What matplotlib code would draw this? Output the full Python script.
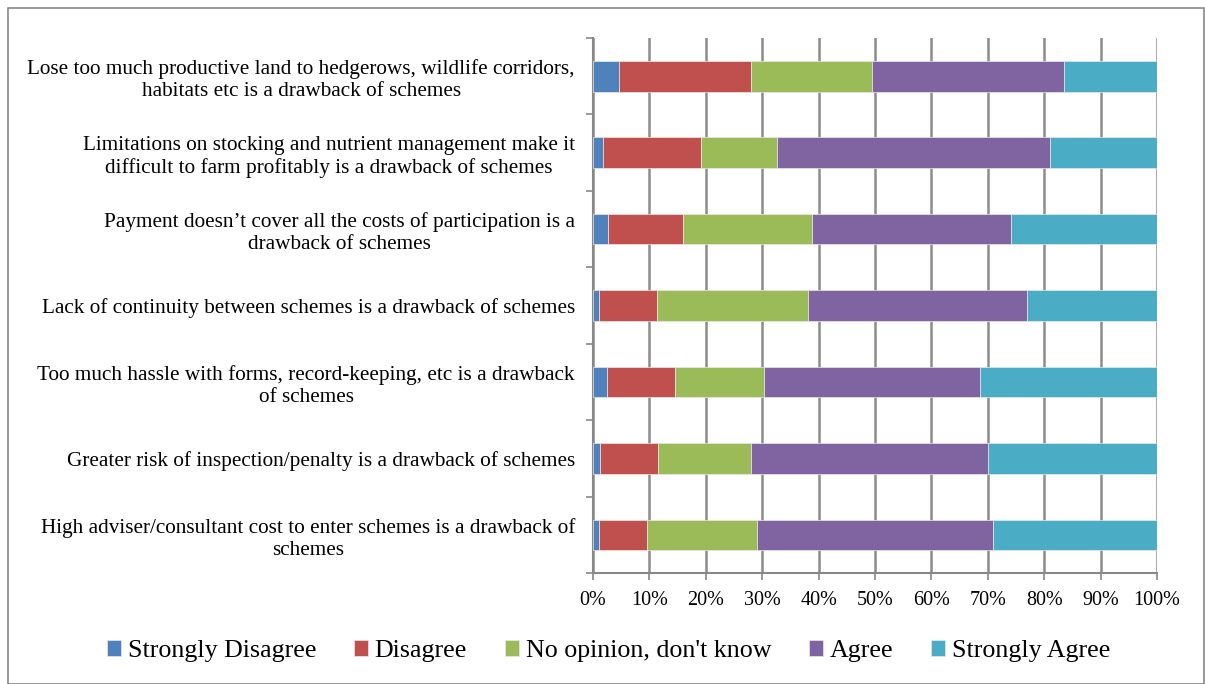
import matplotlib
matplotlib.use("Agg")
import matplotlib.pyplot as plt
import numpy as np
from matplotlib.patches import Rectangle

categories = [
    "Lose too much productive land to hedgerows, wildlife corridors,\nhabitats etc is a drawback of schemes",
    "Limitations on stocking and nutrient management make it\ndifficult to farm profitably is a drawback of schemes",
    "Payment doesn\u2019t cover all the costs of participation is a\ndrawback of schemes",
    "Lack of continuity between schemes is a drawback of schemes",
    "Too much hassle with forms, record-keeping, etc is a drawback\nof schemes",
    "Greater risk of inspection/penalty is a drawback of schemes",
    "High adviser/consultant cost to enter schemes is a drawback of\nschemes",
]
series_names = ["Strongly Disagree", "Disagree", "No opinion, don't know", "Agree", "Strongly Agree"]
strongly_disagree = [4.6, 1.7, 2.6, 1.1, 2.5, 1.2, 1.1]
disagree = [23.5, 17.4, 13.3, 10.2, 12.0, 10.4, 8.4]
no_opinion = [21.4, 13.5, 23.0, 26.9, 15.9, 16.4, 19.5]
agree = [34.0, 48.5, 35.3, 38.7, 38.2, 42.0, 42.0]
strongly_agree = [16.5, 18.9, 25.8, 23.1, 31.4, 30.0, 29.0]
x_ticks = [0, 10, 20, 30, 40, 50, 60, 70, 80, 90, 100]
x_tick_labels = [f"{t}%" for t in x_ticks]
colors = ["#4F81BD", "#C0504D", "#9BBB59", "#8064A2", "#4BACC6"]

plt.rcParams['font.family'] = ['Liberation Serif', 'DejaVu Serif']

W, H = 1205, 684
fig = plt.figure(figsize=(W / 100, H / 100), dpi=100)
ax = fig.add_axes([593 / W, 1 - 573 / H, (1157 - 593) / W, (573 - 38) / H])

data = [strongly_disagree, disagree, no_opinion, agree, strongly_agree]
y = np.arange(len(categories))
left = np.zeros(len(categories))
for name, vals, c in zip(series_names, data, colors):
    vals = np.array(vals, dtype=float)
    ax.barh(y, vals, left=left, height=0.4, color=c, label=name,
            edgecolor="#e8e8e8", linewidth=0.5, zorder=3)
    left += vals

ax.set_xlim(0, 100)
ax.set_ylim(len(categories) - 0.5, -0.5)
ax.set_xticks(x_ticks)
ax.set_xticklabels(x_tick_labels, fontsize=14.5)
ax.tick_params(axis='x', length=5, width=1.2, color="#888888", pad=8)
ax.grid(axis='x', color="#8c8c8c", linewidth=1.8, zorder=0)

ax.set_yticks(y)
ax.set_yticklabels(categories, fontsize=15.3, multialignment='center', linespacing=1.22)
ax.tick_params(axis='y', which='major', length=0, pad=13)
ax.set_yticks(np.arange(-0.5, len(categories) + 0.5, 1), minor=True)
ax.tick_params(axis='y', which='minor', length=5, width=1.2, color="#888888")

for s in ["top", "right"]:
    ax.spines[s].set_visible(False)
for s in ["left", "bottom"]:
    ax.spines[s].set_color("#888888")
    ax.spines[s].set_linewidth(1.5)

fig.legend(loc="center", bbox_to_anchor=(0.505, 1 - 651 / H), ncol=5, frameon=False,
           fontsize=18.7, handlelength=0.55, handleheight=0.55, handletextpad=0.25,
           columnspacing=1.45)

fig.patches.append(Rectangle((8 / W, 0.5 / H), (W - 9) / W, (H - 8.5) / H,
                             transform=fig.transFigure, fill=False,
                             edgecolor="#888888", linewidth=1.2))

fig.savefig("out.png", dpi=100)
